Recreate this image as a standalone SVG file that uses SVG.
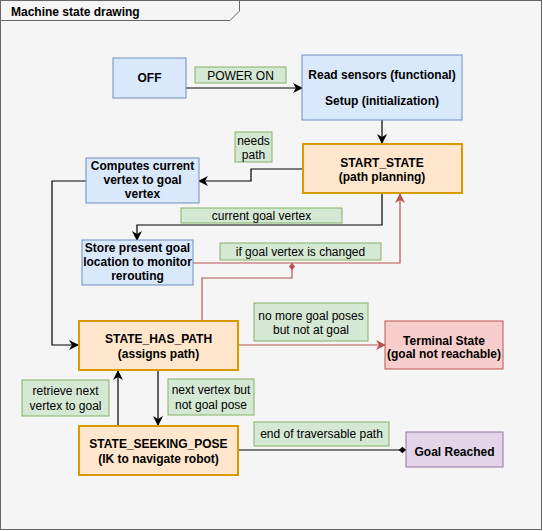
<svg xmlns="http://www.w3.org/2000/svg" width="543" height="531" viewBox="0 0 543 531">
<style>
.t{font-family:"Liberation Sans",Arial,sans-serif;font-size:12px;fill:#000;text-anchor:middle}
.b{font-weight:bold}
.blue{fill:#dae8fc;stroke:#6c8ebf;stroke-width:1}
.org{fill:#ffe6cc;stroke:#d79b00;stroke-width:2}
.red{fill:#f8cecc;stroke:#b85450;stroke-width:1}
.pur{fill:#e1d5e7;stroke:#9673a6;stroke-width:1}
.lbl{fill:#d5e8d4;stroke:#82b366;stroke-width:1}
.k{fill:none;stroke:#000;stroke-width:1.2}
.r{fill:none;stroke:#b85450;stroke-width:1.2}
</style>
<defs>
<marker id="ak" viewBox="0 0 10 10" refX="9" refY="5" markerWidth="10" markerHeight="10" markerUnits="userSpaceOnUse" orient="auto">
<path d="M0,0 L10,5 L0,10 L3,5 Z" fill="#000"/>
</marker>
<marker id="ar" viewBox="0 0 10 10" refX="9" refY="5" markerWidth="10" markerHeight="10" markerUnits="userSpaceOnUse" orient="auto">
<path d="M0,0 L10,5 L0,10 L3,5 Z" fill="#b85450"/>
</marker>
<marker id="dr" viewBox="0 0 10 10" refX="9" refY="5" markerWidth="9" markerHeight="9" markerUnits="userSpaceOnUse" orient="auto">
<path d="M1,5 L5,1.5 L9,5 L5,8.5 Z" fill="#b85450"/>
</marker>
<marker id="dk" viewBox="0 0 10 10" refX="9" refY="5" markerWidth="9" markerHeight="9" markerUnits="userSpaceOnUse" orient="auto">
<path d="M1,5 L5,1.5 L9,5 L5,8.5 Z" fill="#000"/>
</marker>
</defs>
<rect x="0.5" y="0.5" width="541" height="529" fill="#f5f5f5" stroke="#666" stroke-width="1"/>
<path d="M0.5,20.5 H230 L239.5,11 V0.5" fill="none" stroke="#666" stroke-width="1"/>
<text class="t b" x="11" y="16" style="text-anchor:start">Machine state drawing</text>

<g id="connectors">
<path class="k" d="M186,88 H302" marker-end="url(#ak)"/>
<path class="k" d="M382,120 V143" marker-end="url(#ak)"/>
<path class="k" d="M302,169 H251 V181 H199" marker-end="url(#ak)"/>
<path class="k" d="M382,194 V225 H137 V240" marker-end="url(#ak)"/>
<path class="r" d="M193,263 H400 V194" marker-end="url(#ar)"/>
<path class="r" d="M202,320 V278 H292 V263" marker-end="url(#dr)"/>
<path class="k" d="M86,181 H52 V345 H78" marker-end="url(#ak)"/>
<path class="r" d="M239,345 H385" marker-end="url(#ar)"/>
<path class="k" d="M158,371 V425" marker-end="url(#ak)"/>
<path class="k" d="M118,425 V371" marker-end="url(#ak)"/>
<path class="k" d="M239,450 H406" marker-end="url(#dk)"/>
</g>

<g id="lbl-power">
<rect class="lbl" x="195" y="67" width="91" height="16"/>
<text class="t" x="240.5" y="79.5">POWER ON</text>
</g>
<g id="lbl-needs">
<rect class="lbl" x="235" y="132" width="37" height="30"/>
<text class="t" x="253.5" y="145">needs</text>
<text class="t" x="253.5" y="159">path</text>
</g>
<g id="lbl-current">
<rect class="lbl" x="181" y="208" width="161" height="15"/>
<text class="t" x="261.5" y="220">current goal vertex</text>
</g>
<g id="lbl-changed">
<rect class="lbl" x="220" y="243" width="161" height="17"/>
<text class="t" x="300.5" y="256">if goal vertex is changed</text>
</g>
<g id="lbl-nomore">
<rect class="lbl" x="254" y="303" width="114" height="38"/>
<text class="t" x="311" y="320">no more goal poses</text>
<text class="t" x="311" y="334">but not at goal</text>
</g>
<g id="lbl-retrieve">
<rect class="lbl" x="22" y="380" width="87" height="36"/>
<text class="t" x="65.5" y="395">retrieve next</text>
<text class="t" x="65.5" y="410">vertex to goal</text>
</g>
<g id="lbl-next">
<rect class="lbl" x="168" y="379" width="86" height="36"/>
<text class="t" x="211" y="394">next vertex but</text>
<text class="t" x="211" y="409">not goal pose</text>
</g>
<g id="lbl-end">
<rect class="lbl" x="254" y="422" width="135" height="24"/>
<text class="t" x="321.5" y="438">end of traversable path</text>
</g>

<g id="off">
<rect class="blue" x="113" y="58" width="73" height="40"/>
<text class="t b" x="149.5" y="82">OFF</text>
</g>
<g id="read-sensors">
<rect class="blue" x="302" y="55" width="160" height="65"/>
<text class="t b" x="382" y="79">Read sensors (functional)</text>
<text class="t b" x="382" y="105">Setup (initialization)</text>
</g>
<g id="start-state">
<rect class="org" x="303" y="144" width="159" height="49"/>
<text class="t b" x="382" y="167">START_STATE</text>
<text class="t b" x="382" y="181">(path planning)</text>
</g>
<g id="computes">
<rect class="blue" x="86" y="158" width="113" height="45"/>
<text class="t b" x="142.5" y="170">Computes current</text>
<text class="t b" x="142.5" y="184">vertex to goal</text>
<text class="t b" x="142.5" y="198">vertex</text>
</g>
<g id="store">
<rect class="blue" x="82" y="240" width="111" height="45"/>
<text class="t b" x="137.5" y="252">Store present goal</text>
<text class="t b" x="137.5" y="266">location to monitor</text>
<text class="t b" x="137.5" y="280">rerouting</text>
</g>
<g id="has-path">
<rect class="org" x="79" y="321" width="159" height="49"/>
<text class="t b" x="158.5" y="343">STATE_HAS_PATH</text>
<text class="t b" x="158.5" y="358">(assigns path)</text>
</g>
<g id="terminal">
<rect class="red" x="385" y="321" width="118" height="48"/>
<text class="t b" x="444" y="345">Terminal State</text>
<text class="t b" x="444" y="358">(goal not reachable)</text>
</g>
<g id="seeking">
<rect class="org" x="79" y="426" width="159" height="49"/>
<text class="t b" x="158.5" y="448">STATE_SEEKING_POSE</text>
<text class="t b" x="158.5" y="463">(IK to navigate robot)</text>
</g>
<g id="goal">
<rect class="pur" x="406" y="432" width="97" height="35"/>
<text class="t b" x="454.5" y="456">Goal Reached</text>
</g>
</svg>
